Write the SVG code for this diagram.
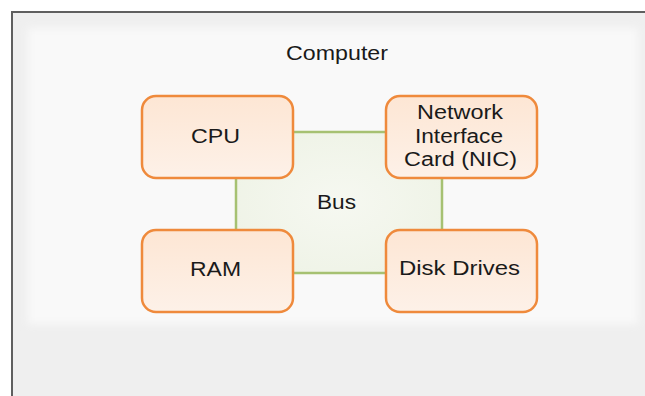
<svg xmlns="http://www.w3.org/2000/svg" width="645" height="396" viewBox="0 0 645 396">
<defs>
<linearGradient id="nodeFill" x1="0" y1="0" x2="0" y2="1">
<stop offset="0" stop-color="#fde6d4"/>
<stop offset="1" stop-color="#fdf1e8"/>
</linearGradient>
<radialGradient id="busFill" cx="0.5" cy="0.5" r="0.7">
<stop offset="0" stop-color="#f6f8f1"/>
<stop offset="1" stop-color="#edf2e4"/>
</radialGradient>
<filter id="soft" x="-5%" y="-5%" width="110%" height="110%"><feGaussianBlur stdDeviation="4"/></filter>
</defs>
<style>
.node rect{fill:url(#nodeFill);stroke:#ef8a3c;stroke-width:2.5}
text{font-family:"Liberation Sans",Arial,sans-serif;font-size:20px;fill:#1a1a1a;text-anchor:middle}
.bus line{stroke:#a6c172;stroke-width:2.5}
</style>
<rect width="645" height="396" fill="#ffffff"/>
<g id="frame">
<rect x="12" y="12" width="640" height="400" fill="#efefef" stroke="#5f5f5f" stroke-width="2"/>
<rect x="28" y="28" width="610" height="296" fill="#f9f9f9" filter="url(#soft)"/>
<text x="337" y="60" textLength="102" lengthAdjust="spacingAndGlyphs">Computer</text>
</g>
<g id="bus" class="bus">
<rect x="236" y="132" width="206" height="141" fill="url(#busFill)"/>
<line x1="292" y1="132" x2="387" y2="132"/>
<line x1="292" y1="273" x2="387" y2="273"/>
<line x1="236" y1="177" x2="236" y2="230"/>
<line x1="442" y1="177" x2="442" y2="230"/>
<text x="336.5" y="209" textLength="39" lengthAdjust="spacingAndGlyphs">Bus</text>
</g>
<g id="cpu" class="node">
<rect x="142" y="96" width="151" height="82" rx="14"/>
<text x="215.5" y="143" textLength="49" lengthAdjust="spacingAndGlyphs">CPU</text>
</g>
<g id="nic" class="node">
<rect x="386" y="96" width="151" height="82" rx="14"/>
<text x="460" y="119" textLength="86" lengthAdjust="spacingAndGlyphs">Network</text>
<text x="459" y="143" textLength="88" lengthAdjust="spacingAndGlyphs">Interface</text>
<text x="460.5" y="166" textLength="113" lengthAdjust="spacingAndGlyphs">Card (NIC)</text>
</g>
<g id="ram" class="node">
<rect x="142" y="230" width="151" height="82" rx="14"/>
<text x="215.5" y="276" textLength="51" lengthAdjust="spacingAndGlyphs">RAM</text>
</g>
<g id="disk" class="node">
<rect x="386" y="230" width="151" height="82" rx="14"/>
<text x="459.5" y="275" textLength="121" lengthAdjust="spacingAndGlyphs">Disk Drives</text>
</g>
</svg>
